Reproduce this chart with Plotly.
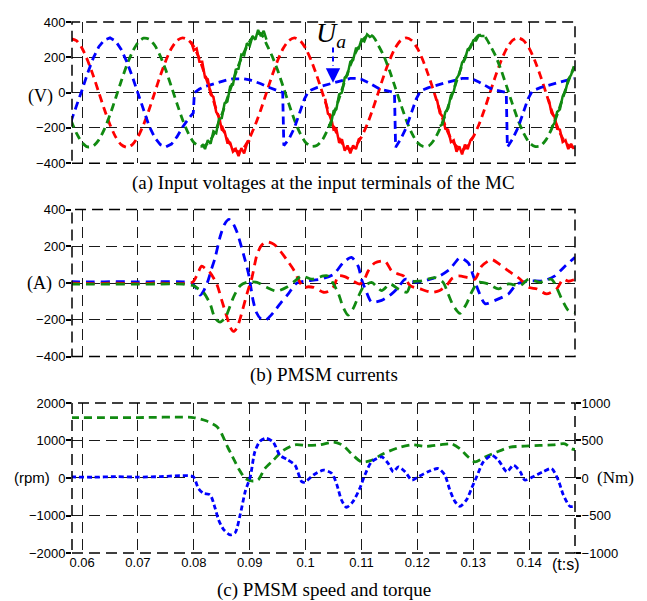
import plotly.graph_objects as go

# ---------------- Panel (a): input voltages (V) ----------------
t_va = [round(0.058 + 0.001 * i, 4) for i in range(91)]
va_red = [305, 295, 251, 182, 96, 0, -96, -182, -251, -295,
          -310, -295, -251, -182, -96, 0, 96, 182, 251, 295,
          310, 298, 260, 190, 100, 5, -95, -190, -265, -315,
          -335, -310, -255, -182, -96, 0, 96, 182, 251, 295,
          310, 295, 251, 182, 96, 0, -100, -190, -260, -305,
          -320, -300, -251, -182, -96, 0, 96, 182, 251, 295,
          310, 295, 251, 182, 96, 0, -100, -190, -260, -305,
          -325, -300, -251, -182, -96, 0, 96, 182, 251, 295,
          310, 295, 251, 182, 96, 0, -100, -190, -260, -300, -310]
va_green = [-155, -230, -283, -308, -303, -268, -207, -126, -32, 64,
            155, 230, 283, 308, 303, 268, 207, 126, 32, -64,
            -155, -230, -283, -305, -300, -268, -207, -126, -32, 64,
            155, 230, 290, 330, 335, 275, 207, 126, 32, -64,
            -155, -230, -283, -305, -300, -268, -207, -126, -32, 64,
            155, 230, 290, 320, 320, 268, 207, 126, 32, -64,
            -155, -230, -283, -305, -303, -268, -207, -126, -32, 64,
            155, 230, 290, 325, 320, 268, 207, 126, 32, -64,
            -155, -230, -283, -305, -303, -268, -207, -126, -32, 64, 140]

t_va_blue = [0.058, 0.059, 0.060, 0.061, 0.062, 0.063, 0.064, 0.065, 0.066, 0.067,
             0.068, 0.069, 0.070, 0.071, 0.072, 0.073, 0.074, 0.075, 0.076, 0.077,
             0.078, 0.079, 0.0799,
             0.0801, 0.081, 0.082, 0.083, 0.084, 0.085, 0.086, 0.087, 0.088, 0.089,
             0.090, 0.091, 0.092, 0.093, 0.094, 0.095, 0.0959,
             0.0961, 0.097, 0.098, 0.099, 0.0998,
             0.1005, 0.101, 0.102, 0.103, 0.104, 0.105, 0.106, 0.107, 0.108, 0.109,
             0.110, 0.111, 0.112, 0.113, 0.114, 0.115, 0.1159,
             0.1161, 0.117, 0.118, 0.119, 0.1198,
             0.1205, 0.121, 0.122, 0.123, 0.124, 0.125, 0.126, 0.127, 0.128, 0.129,
             0.130, 0.131, 0.132, 0.133, 0.134, 0.135, 0.1359,
             0.1361, 0.137, 0.138, 0.139, 0.1398,
             0.1405, 0.141, 0.142, 0.143, 0.144, 0.145, 0.146, 0.147, 0.148]
va_blue = [-165, -80, 15, 110, 195, 260, 298, 310, 292, 245,
           175, 90, -5, -100, -190, -255, -295, -308, -292, -250,
           -195, -150, -115,
           0, 20, 35, 45, 55, 64, 72, 78, 80, 78,
           72, 62, 50, 35, 22, 10, 0,
           -300, -265, -200, -115, -35,
           5, 15, 28, 38, 46, 55, 64, 72, 80, 80,
           75, 60, 42, 25, 14, 6, 0,
           -310, -265, -200, -115, -35,
           5, 15, 28, 38, 46, 55, 64, 72, 80, 80,
           75, 60, 42, 25, 14, 6, 0,
           -310, -265, -200, -115, -35,
           5, 15, 28, 38, 46, 55, 64, 72, 80]

# noisy (switching ripple) stretches, sampled every 0.5 ms
def grid(a, n):
    return [round(a + 0.0005 * i, 5) for i in range(n)]

t_rn = [grid(0.0795, 22), grid(0.1035, 14), grid(0.1235, 14), grid(0.1435, 10)]
v_rn = [[290, 240, 250, 175, 175, 85, 75, -10, -25, -110, -135, -210, -220, -285,
         -285, -335, -320, -360, -315, -345, -290, -270],
        [-35, -120, -130, -210, -205, -285, -265, -330, -300, -345, -300, -320, -265, -255],
        [-40, -115, -135, -205, -210, -280, -270, -335, -305, -350, -295, -320, -270, -250],
        [-40, -115, -135, -205, -210, -280, -270, -320, -290, -320]]
t_gn = [grid(0.0815, 24), grid(0.104, 17), grid(0.124, 17), grid(0.144, 9)]
v_gn = [[-290, -320, -270, -290, -220, -230, -150, -145, -60, -50, 35, 45, 130, 135,
         215, 210, 280, 265, 320, 300, 355, 320, 350, 300],
        [-185, -185, -105, -95, -10, 0, 85, 100, 175, 185, 250, 250, 300, 290, 330, 315, 325],
        [-190, -180, -110, -90, -15, 5, 80, 105, 170, 190, 245, 255, 295, 295, 325, 320, 320],
        [-195, -175, -110, -95, -20, 10, 75, 100, 150]]

# ---------------- Panel (b): PMSM currents (A) ----------------
t_ib = [0.058, 0.062, 0.066, 0.070, 0.074, 0.078, 0.0795, 0.0805, 0.0811, 0.0818,
        0.0825, 0.0832, 0.0838, 0.0847, 0.0855, 0.0863, 0.0870, 0.0877, 0.0883, 0.0889,
        0.0898, 0.0906, 0.0912, 0.0920, 0.0928, 0.0935, 0.0945, 0.0955, 0.0969, 0.0984,
        0.1002, 0.1026, 0.1050, 0.1067, 0.1082, 0.1094, 0.1100, 0.1109, 0.1118, 0.1136,
        0.1154, 0.1166, 0.1178, 0.1199, 0.1223, 0.1240, 0.1258, 0.1276, 0.1291, 0.1300,
        0.1309, 0.1321, 0.1339, 0.1363, 0.1378, 0.1401, 0.1425, 0.1446, 0.1464, 0.1482]
i_blue = [8, 6, 8, 6, 8, 6, 2, -30, -65, -40,
          10, 80, 137, 252, 320, 346, 325, 279, 220, 155,
          48, -94, -160, -195, -202, -185, -150, -110, -59, 0,
          12, 21, 48, 110, 140, 92, 21, -50, -103, -94,
          -59, -23, 21, 4, 21, 39, 75, 137, 110, 39,
          -41, -112, -94, -59, -5, 12, 12, 39, 92, 140]

t_ir = [0.058, 0.062, 0.066, 0.070, 0.074, 0.078, 0.0798, 0.0805, 0.0814, 0.0822,
        0.0829, 0.0841, 0.0850, 0.0859, 0.0866, 0.0871, 0.0877, 0.0883, 0.0895, 0.0904,
        0.0913, 0.0921, 0.0930, 0.0939, 0.0948, 0.0957, 0.0966, 0.0978, 0.0987, 0.0996,
        0.1005, 0.1014, 0.1032, 0.1041, 0.1050, 0.1059, 0.1070, 0.1079, 0.1097, 0.1105,
        0.1112, 0.1124, 0.1142, 0.1154, 0.1165, 0.1175, 0.1187, 0.1205, 0.1226, 0.1240,
        0.1252, 0.1262, 0.1273, 0.1290, 0.1303, 0.1315, 0.1333, 0.1348, 0.1363, 0.1384,
        0.1399, 0.1414, 0.1431, 0.1449, 0.1461, 0.1470, 0.1482]
i_red = [0, -3, 0, -3, 0, -3, 5, 39, 92, 75,
         57, -5, -94, -183, -245, -263, -245, -192, -59, 30,
         155, 205, 225, 218, 199, 165, 128, 75, 21, -23,
         -20, -23, -50, -45, -20, 39, 35, 21, -5, 20,
         66, 110, 119, 66, 50, 39, -14, -32, -50, -40,
         -14, 25, 39, 30, 21, 92, 128, 100, 66, 21,
         -23, -32, -59, -32, 21, 10, 20]

t_ig = [0.058, 0.062, 0.066, 0.070, 0.074, 0.078, 0.0800, 0.0808, 0.0817, 0.0829,
        0.0838, 0.0847, 0.0856, 0.0862, 0.0871, 0.0883, 0.0895, 0.0913, 0.0930, 0.0948,
        0.0966, 0.0981, 0.0993, 0.1011, 0.1032, 0.1040, 0.1050, 0.1059, 0.1067, 0.1076,
        0.1085, 0.1094, 0.1103, 0.1118, 0.1136, 0.1151, 0.1166, 0.1181, 0.1190, 0.1208,
        0.1231, 0.1246, 0.1255, 0.1264, 0.1276, 0.1288, 0.1297, 0.1309, 0.1327, 0.1345,
        0.1363, 0.1384, 0.1399, 0.1419, 0.1440, 0.1458, 0.1470, 0.1482]
i_green = [-5, -6, -5, -6, -5, -6, -15, -32, -50, -112,
           -192, -212, -190, -148, -76, -14, 4, 4, -23, -44,
           -23, 12, 39, 21, 39, 39, -5, -59, -130, -174,
           -139, -76, -23, 4, -41, -5, -32, -50, 4, 12,
           30, 4, -59, -121, -165, -112, -50, 4, -5, -32,
           -5, -14, 21, 4, 21, -85, -148, -160]

# ---------------- Panel (c): speed (rpm) and torque (Nm) ----------------
t_spd = [0.058, 0.070, 0.0799, 0.0822, 0.0841, 0.0850, 0.0859, 0.0868, 0.0880, 0.0892,
         0.0903, 0.0915, 0.0927, 0.0942, 0.0960, 0.0981, 0.1002, 0.1026, 0.1050, 0.1067,
         0.1082, 0.1100, 0.1118, 0.1139, 0.1169, 0.1192, 0.1214, 0.1240, 0.1261, 0.1276,
         0.1291, 0.1303, 0.1321, 0.1342, 0.1366, 0.1392, 0.1419, 0.1443, 0.1464, 0.1476, 0.1482]
speed = [1612, 1612, 1612, 1525, 1375, 1173, 868, 605, 252, -10,
         -79, -53, 252, 473, 736, 884, 868, 884, 955, 868,
         647, 429, 473, 647, 823, 884, 842, 884, 910, 779,
         560, 429, 560, 692, 823, 850, 868, 884, 910, 779, 760]

t_trq = [0.058, 0.062, 0.066, 0.070, 0.074, 0.0775, 0.0799, 0.0808, 0.0817, 0.0829,
         0.0838, 0.0844, 0.0853, 0.0865, 0.0874, 0.0883, 0.0892, 0.0901, 0.0909, 0.0918,
         0.0929, 0.0942, 0.0954, 0.0966, 0.0981, 0.0993, 0.0999, 0.1014, 0.1032, 0.1047,
         0.1056, 0.1064, 0.1073, 0.1085, 0.1097, 0.1106, 0.1118, 0.1136, 0.1148, 0.1157,
         0.1166, 0.1178, 0.1190, 0.1202, 0.1219, 0.1237, 0.1249, 0.1258, 0.1267, 0.1276,
         0.1288, 0.1297, 0.1306, 0.1318, 0.1333, 0.1345, 0.1360, 0.1372, 0.1384, 0.1392,
         0.1407, 0.1425, 0.1440, 0.1452, 0.1461, 0.1473, 0.1482]
torque = [15, 10, 18, 12, 18, 30, 17, -137, -203, -224,
          -400, -553, -684, -759, -729, -487, -180, 17, 346, 487,
          530, 478, 303, 250, 171, -49, -55, 40, 105, 61,
          -92, -290, -391, -312, -137, 40, 215, 280, 192, 83,
          149, 83, -27, 17, 83, 126, 40, -158, -312, -378,
          -290, -137, 17, 215, 303, 237, 83, 171, 83, -27,
          17, 83, 126, -27, -224, -378, -378]

x_ticks = [0.06, 0.07, 0.08, 0.09, 0.10, 0.11, 0.12, 0.13, 0.14]
x_ticktext = ["0.06", "0.07", "0.08", "0.09", "0.1", "0.11", "0.12", "0.13", "0.14"]

RED, GREEN, BLUE = "#ff0000", "#118a11", "#0000ff"
GRID_DASH = "11px,6px"

fig = go.Figure()


def add(x, y, color, xa, ya, dash="8px,5px", width=2.8, shape="spline"):
    fig.add_trace(go.Scatter(x=x, y=y, mode="lines", xaxis=xa, yaxis=ya,
                             line=dict(color=color, width=width, dash=dash, shape=shape,
                                       smoothing=0.7 if shape == "spline" else None),
                             showlegend=False, hoverinfo="skip"))


# panel (a)
add(t_va, va_red, RED, "x", "y")
add(t_va, va_green, GREEN, "x", "y")
add(t_va_blue, va_blue, BLUE, "x", "y", shape="linear")
for tt, vv in zip(t_rn, v_rn):
    add(tt, vv, RED, "x", "y", dash="solid", width=2.5, shape="linear")
for tt, vv in zip(t_gn, v_gn):
    add(tt, vv, GREEN, "x", "y", dash="solid", width=2.5, shape="linear")

# panel (b)
add(t_ib, i_blue, BLUE, "x2", "y2", dash="9px,6px")
add(t_ir, i_red, RED, "x2", "y2", dash="9px,6px")
add(t_ig, i_green, GREEN, "x2", "y2", dash="9px,6px")

# panel (c)
add(t_spd, speed, GREEN, "x3", "y3", dash="8px,5px")
add(t_trq, torque, BLUE, "x3", "y4", dash="5px,3px")

tickfont = dict(family="Liberation Sans, Arial", size=13, color="black")
xcommon = dict(range=[0.0582, 0.1482], tickvals=x_ticks, showgrid=True, gridcolor="#1a1a1a",
               gridwidth=1.4, griddash=GRID_DASH, zeroline=False, showline=False, ticks="")
ycommon = dict(showgrid=True, gridcolor="#1a1a1a", gridwidth=1.4, griddash=GRID_DASH,
               zeroline=False, showline=False, ticks="outside", ticklen=5, tickwidth=1.5,
               tickcolor="black", tickfont=tickfont, ticklabelstandoff=-2)

fig.update_layout(
    width=639, height=593,
    margin=dict(l=64, r=72, t=7, b=48),
    paper_bgcolor="white", plot_bgcolor="white",
    font=dict(family="Liberation Sans, Arial", color="black"),
    xaxis=dict(domain=[0, 1], anchor="y", showticklabels=False, **xcommon),
    xaxis2=dict(domain=[0, 1], anchor="y2", showticklabels=False, **xcommon),
    xaxis3=dict(domain=[0, 1], anchor="y3", showticklabels=True, ticktext=x_ticktext,
                tickfont=tickfont, **xcommon),
    yaxis=dict(domain=[0.7342, 1.0], anchor="x", range=[-400, 400],
               tickvals=[-400, -200, 0, 200, 400], **ycommon),
    yaxis2=dict(domain=[0.3699, 0.6468], anchor="x2", range=[-400, 400],
                tickvals=[-400, -200, 0, 200, 400], **ycommon),
    yaxis3=dict(domain=[0, 0.2825], anchor="x3", range=[-2000, 2000],
                tickvals=[-2000, -1000, 0, 1000, 2000], **ycommon),
    yaxis4=dict(overlaying="y3", anchor="x3", side="right", range=[-1000, 1000],
                tickvals=[-1000, -500, 0, 500, 1000], showgrid=False, zeroline=False,
                showline=False, ticks="outside", ticklen=5, tickwidth=1.5,
                tickcolor="black", tickfont=tickfont, ticklabelstandoff=-2),
)

# dashed frames around each panel
for xr, yr in [("x domain", "y domain"), ("x2 domain", "y2 domain"), ("x3 domain", "y3 domain")]:
    fig.add_shape(type="rect", xref=xr, yref=yr, x0=0, x1=1, y0=0, y1=1,
                  line=dict(color="black", width=1.5, dash=GRID_DASH), layer="above")

# U_a arrow shaft (dashed)
fig.add_shape(type="line", xref="x", yref="y", x0=0.1049, x1=0.1049, y0=255, y1=150,
              line=dict(color=BLUE, width=2, dash="5px,4px"))

serif = "Liberation Serif, Times New Roman"
ann = [
    dict(x=0.1049, y=56, xref="x", yref="y", text=" ", showarrow=True, ax=0, ay=-16,
         arrowhead=2, arrowsize=1.6, arrowwidth=1.8, arrowcolor=BLUE),
    dict(x=0.10448, y=330, xref="x", yref="y", text="<i>U</i><sub><i>a</i></sub>",
         showarrow=False, font=dict(family=serif, size=28, color="black"),
         xanchor="center", yanchor="middle"),
    dict(x=0.5, y=0.697, xref="paper", yref="paper",
         text="(a) Input voltages at the input terminals of the MC", showarrow=False,
         font=dict(family=serif, size=19, color="black"), xanchor="center", yanchor="middle"),
    dict(x=0.5, y=0.3346, xref="paper", yref="paper", text="(b) PMSM currents",
         showarrow=False, font=dict(family=serif, size=19, color="black"),
         xanchor="center", yanchor="middle"),
    dict(x=0.5, y=-0.0688, xref="paper", yref="paper", text="(c) PMSM speed and torque",
         showarrow=False, font=dict(family=serif, size=19, color="black"),
         xanchor="center", yanchor="middle"),
    dict(x=-0.0636, y=0.8606, xref="paper", yref="paper", text="(V)", showarrow=False,
         font=dict(family=serif, size=18, color="black"), xanchor="center", yanchor="middle"),
    dict(x=-0.0646, y=0.5074, xref="paper", yref="paper", text="(A)", showarrow=False,
         font=dict(family=serif, size=18, color="black"), xanchor="center", yanchor="middle"),
    dict(x=-0.0805, y=0.1431, xref="paper", yref="paper", text="(rpm)", showarrow=False,
         font=dict(family="Liberation Sans, Arial", size=15, color="black"),
         xanchor="center", yanchor="middle"),
    dict(x=1.0805, y=0.1413, xref="paper", yref="paper", text="(Nm)", showarrow=False,
         font=dict(family=serif, size=17, color="black"), xanchor="center", yanchor="middle"),
    dict(x=0.982, y=-0.0223, xref="paper", yref="paper", text="(t:s)", showarrow=False,
         font=dict(family="Liberation Sans, Arial", size=16, color="black"),
         xanchor="center", yanchor="middle"),
]
fig.update_layout(annotations=ann)

fig.write_html("out.html")
